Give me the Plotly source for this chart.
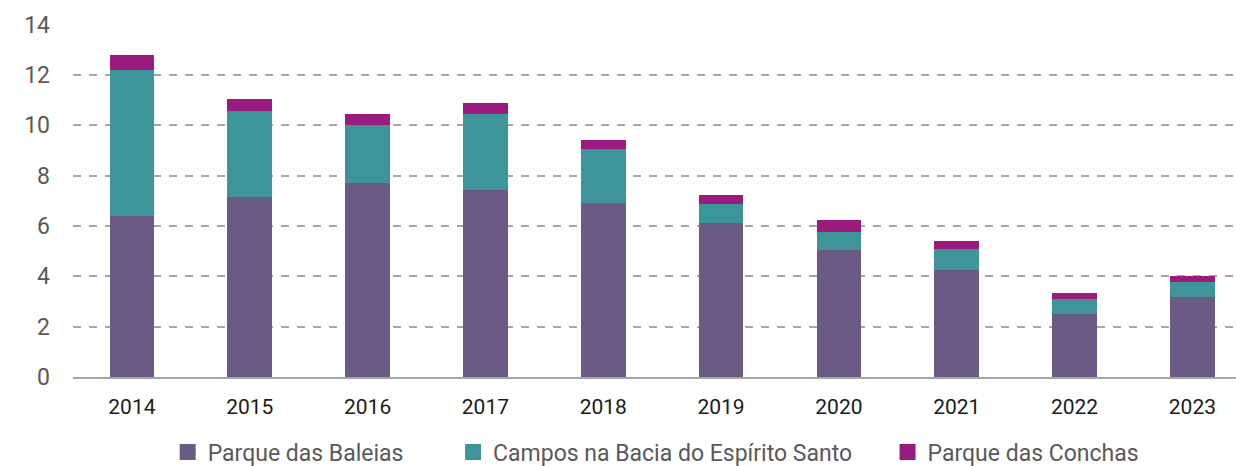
import plotly.graph_objects as go

# Annual production by field group (stacked)
years = ["2014", "2015", "2016", "2017", "2018", "2019", "2020", "2021", "2022", "2023"]
parque_baleias = [6.40, 7.15, 7.71, 7.43, 6.92, 6.12, 5.05, 4.26, 2.51, 3.19]
campos_espirito_santo = [5.79, 3.42, 2.30, 3.02, 2.14, 0.76, 0.72, 0.83, 0.60, 0.59]
parque_conchas = [0.60, 0.47, 0.44, 0.43, 0.36, 0.36, 0.47, 0.32, 0.24, 0.24]

series = [
    ("Parque das Baleias", parque_baleias, "#6A5A84"),
    ("Campos na Bacia do Espírito Santo", campos_espirito_santo, "#3D9499"),
    ("Parque das Conchas", parque_conchas, "#991B7E"),
]

# each series gets its own legend box so the entries can be placed individually
legend_ids = ["legend", "legend2", "legend3"]
legend_x = [0.0814, 0.3268, 0.7004]

fig = go.Figure()
for i, (name, vals, color) in enumerate(series):
    fig.add_trace(go.Bar(
        x=list(range(len(years))), y=vals, name=name,
        marker=dict(color=color, line=dict(width=0)),
        width=0.38, legendgroup=f"g{i}", showlegend=False,
    ))
    # larger square swatch for the legend entry
    fig.add_trace(go.Scatter(
        x=[None], y=[None], mode="markers", name=name,
        marker=dict(symbol="square", size=16, color=color),
        legendgroup=f"g{i}", showlegend=True, legend=legend_ids[i],
    ))

legend_style = dict(
    orientation="h", xanchor="left",
    yref="container", y=0.030, yanchor="middle",
    font=dict(size=23, color="#595959"),
    itemwidth=30, bgcolor="rgba(0,0,0,0)",
)

fig.update_layout(
    barmode="stack",
    width=1236, height=466,
    margin=dict(l=73, r=0, t=24, b=89),
    paper_bgcolor="white", plot_bgcolor="white",
    font=dict(family="Roboto", size=20, color="#595959"),
    showlegend=True,
    legend=dict(x=legend_x[0], **legend_style),
    legend2=dict(x=legend_x[1], **legend_style),
    legend3=dict(x=legend_x[2], **legend_style),
    xaxis=dict(
        tickmode="array", tickvals=list(range(len(years))), ticktext=years,
        range=[-0.5, 9.37], showgrid=False, zeroline=False,
        showline=True, linecolor="#A6A6A6", linewidth=2,
        ticks="", tickfont=dict(size=21, color="#1A1A1A"),
        ticklabelstandoff=10, automargin=False,
    ),
    yaxis=dict(
        range=[0, 14.02], dtick=2, showgrid=True, gridcolor="#A6A6A6",
        gridwidth=2, griddash="8px,8px", zeroline=False, showline=False,
        ticks="", tickfont=dict(size=23, color="#595959"),
        ticklabelstandoff=22, automargin=False,
    ),
)

fig.write_html("out.html")
